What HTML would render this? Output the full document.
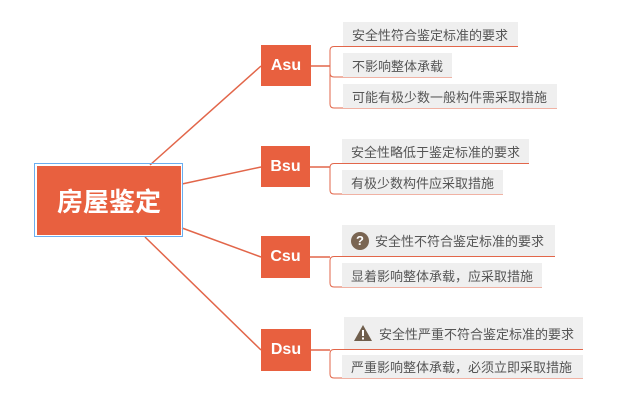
<!DOCTYPE html>
<html><head><meta charset="utf-8"><style>
body{margin:0;width:619px;height:404px;background:#fff;position:relative;overflow:hidden;font-family:"Liberation Sans","Noto Sans CJK SC",sans-serif}
.n{position:absolute;background:#e8603f;color:#fff;font-weight:bold;font-size:16px;display:flex;align-items:center;justify-content:center}
.l{position:absolute;background:#efefef;color:#555;font-size:13px;display:flex;align-items:center;padding-left:9px;box-sizing:border-box;white-space:nowrap}
svg{position:absolute;left:0;top:0}
</style></head><body>
<svg width="619" height="404" fill="none" stroke="#e2664a" stroke-width="1.5">
<line x1="150" y1="165" x2="261" y2="66"/>
<line x1="182" y1="184" x2="261" y2="167"/>
<line x1="182" y1="228" x2="261" y2="257"/>
<line x1="145" y1="237" x2="261" y2="350"/>
<line x1="311" y1="66" x2="330" y2="66"/>
<line x1="310" y1="167" x2="330" y2="167"/>
<line x1="310" y1="257" x2="330" y2="257"/>
<line x1="311" y1="350" x2="330" y2="350"/>
<g stroke-width="1">
<path d="M518 46.5H334q-4 0-4 4V104q0 4 4 4H557M330 73q0 4 4 4H452"/>
<path d="M529 163.5H334q-4 0-4 4V190q0 4 4 4H503"/>
<path d="M555 256.5H334q-4 0-4 4V283q0 4 4 4H542"/>
<path d="M583 349.5H334q-4 0-4 4V374q0 4 4 4H583"/>
</g>
</svg>
<div style="position:absolute;left:34px;top:163px;width:147px;height:72px;border:1.5px solid #6aaef0"></div>
<div class="n" style="left:37px;top:166px;width:144px;height:69px;font-size:26px">房屋鉴定</div>
<div class="n" style="left:261px;top:45px;width:50px;height:41px">Asu</div>
<div class="n" style="left:261px;top:146px;width:49px;height:41px">Bsu</div>
<div class="n" style="left:261px;top:236px;width:49px;height:42px">Csu</div>
<div class="n" style="left:261px;top:329px;width:50px;height:42px">Dsu</div>
<div class="l" style="left:343px;top:22px;width:175px;height:24px">安全性符合鉴定标准的要求</div>
<div class="l" style="left:343px;top:53px;width:109px;height:24px">不影响整体承载</div>
<div class="l" style="left:343px;top:84px;width:214px;height:24px">可能有极少数一般构件需采取措施</div>
<div class="l" style="left:342px;top:139px;width:187px;height:24px">安全性略低于鉴定标准的要求</div>
<div class="l" style="left:342px;top:170px;width:161px;height:24px">有极少数构件应采取措施</div>
<div class="l" style="left:342px;top:225px;width:213px;height:31px"><span style="display:inline-flex;width:18px;height:18px;border-radius:50%;background:#7a6552;color:#fff;font-weight:bold;font-size:13px;align-items:center;justify-content:center;margin-right:6px">?</span>安全性不符合鉴定标准的要求</div>
<div class="l" style="left:342px;top:263px;width:200px;height:24px">显着影响整体承载，应采取措施</div>
<div class="l" style="left:344px;top:317px;width:239px;height:32px"><svg style="position:relative;margin-right:6px" width="20" height="18" viewBox="0 0 20 18"><path d="M10 1L19 17H1Z" fill="#6f5e4c"/><rect x="9" y="6" width="2" height="6" fill="#fff"/><rect x="9" y="13.5" width="2" height="2" fill="#fff"/></svg>安全性严重不符合鉴定标准的要求</div>
<div class="l" style="left:342px;top:355px;width:241px;height:23px">严重影响整体承载，必须立即采取措施</div>
</body></html>
